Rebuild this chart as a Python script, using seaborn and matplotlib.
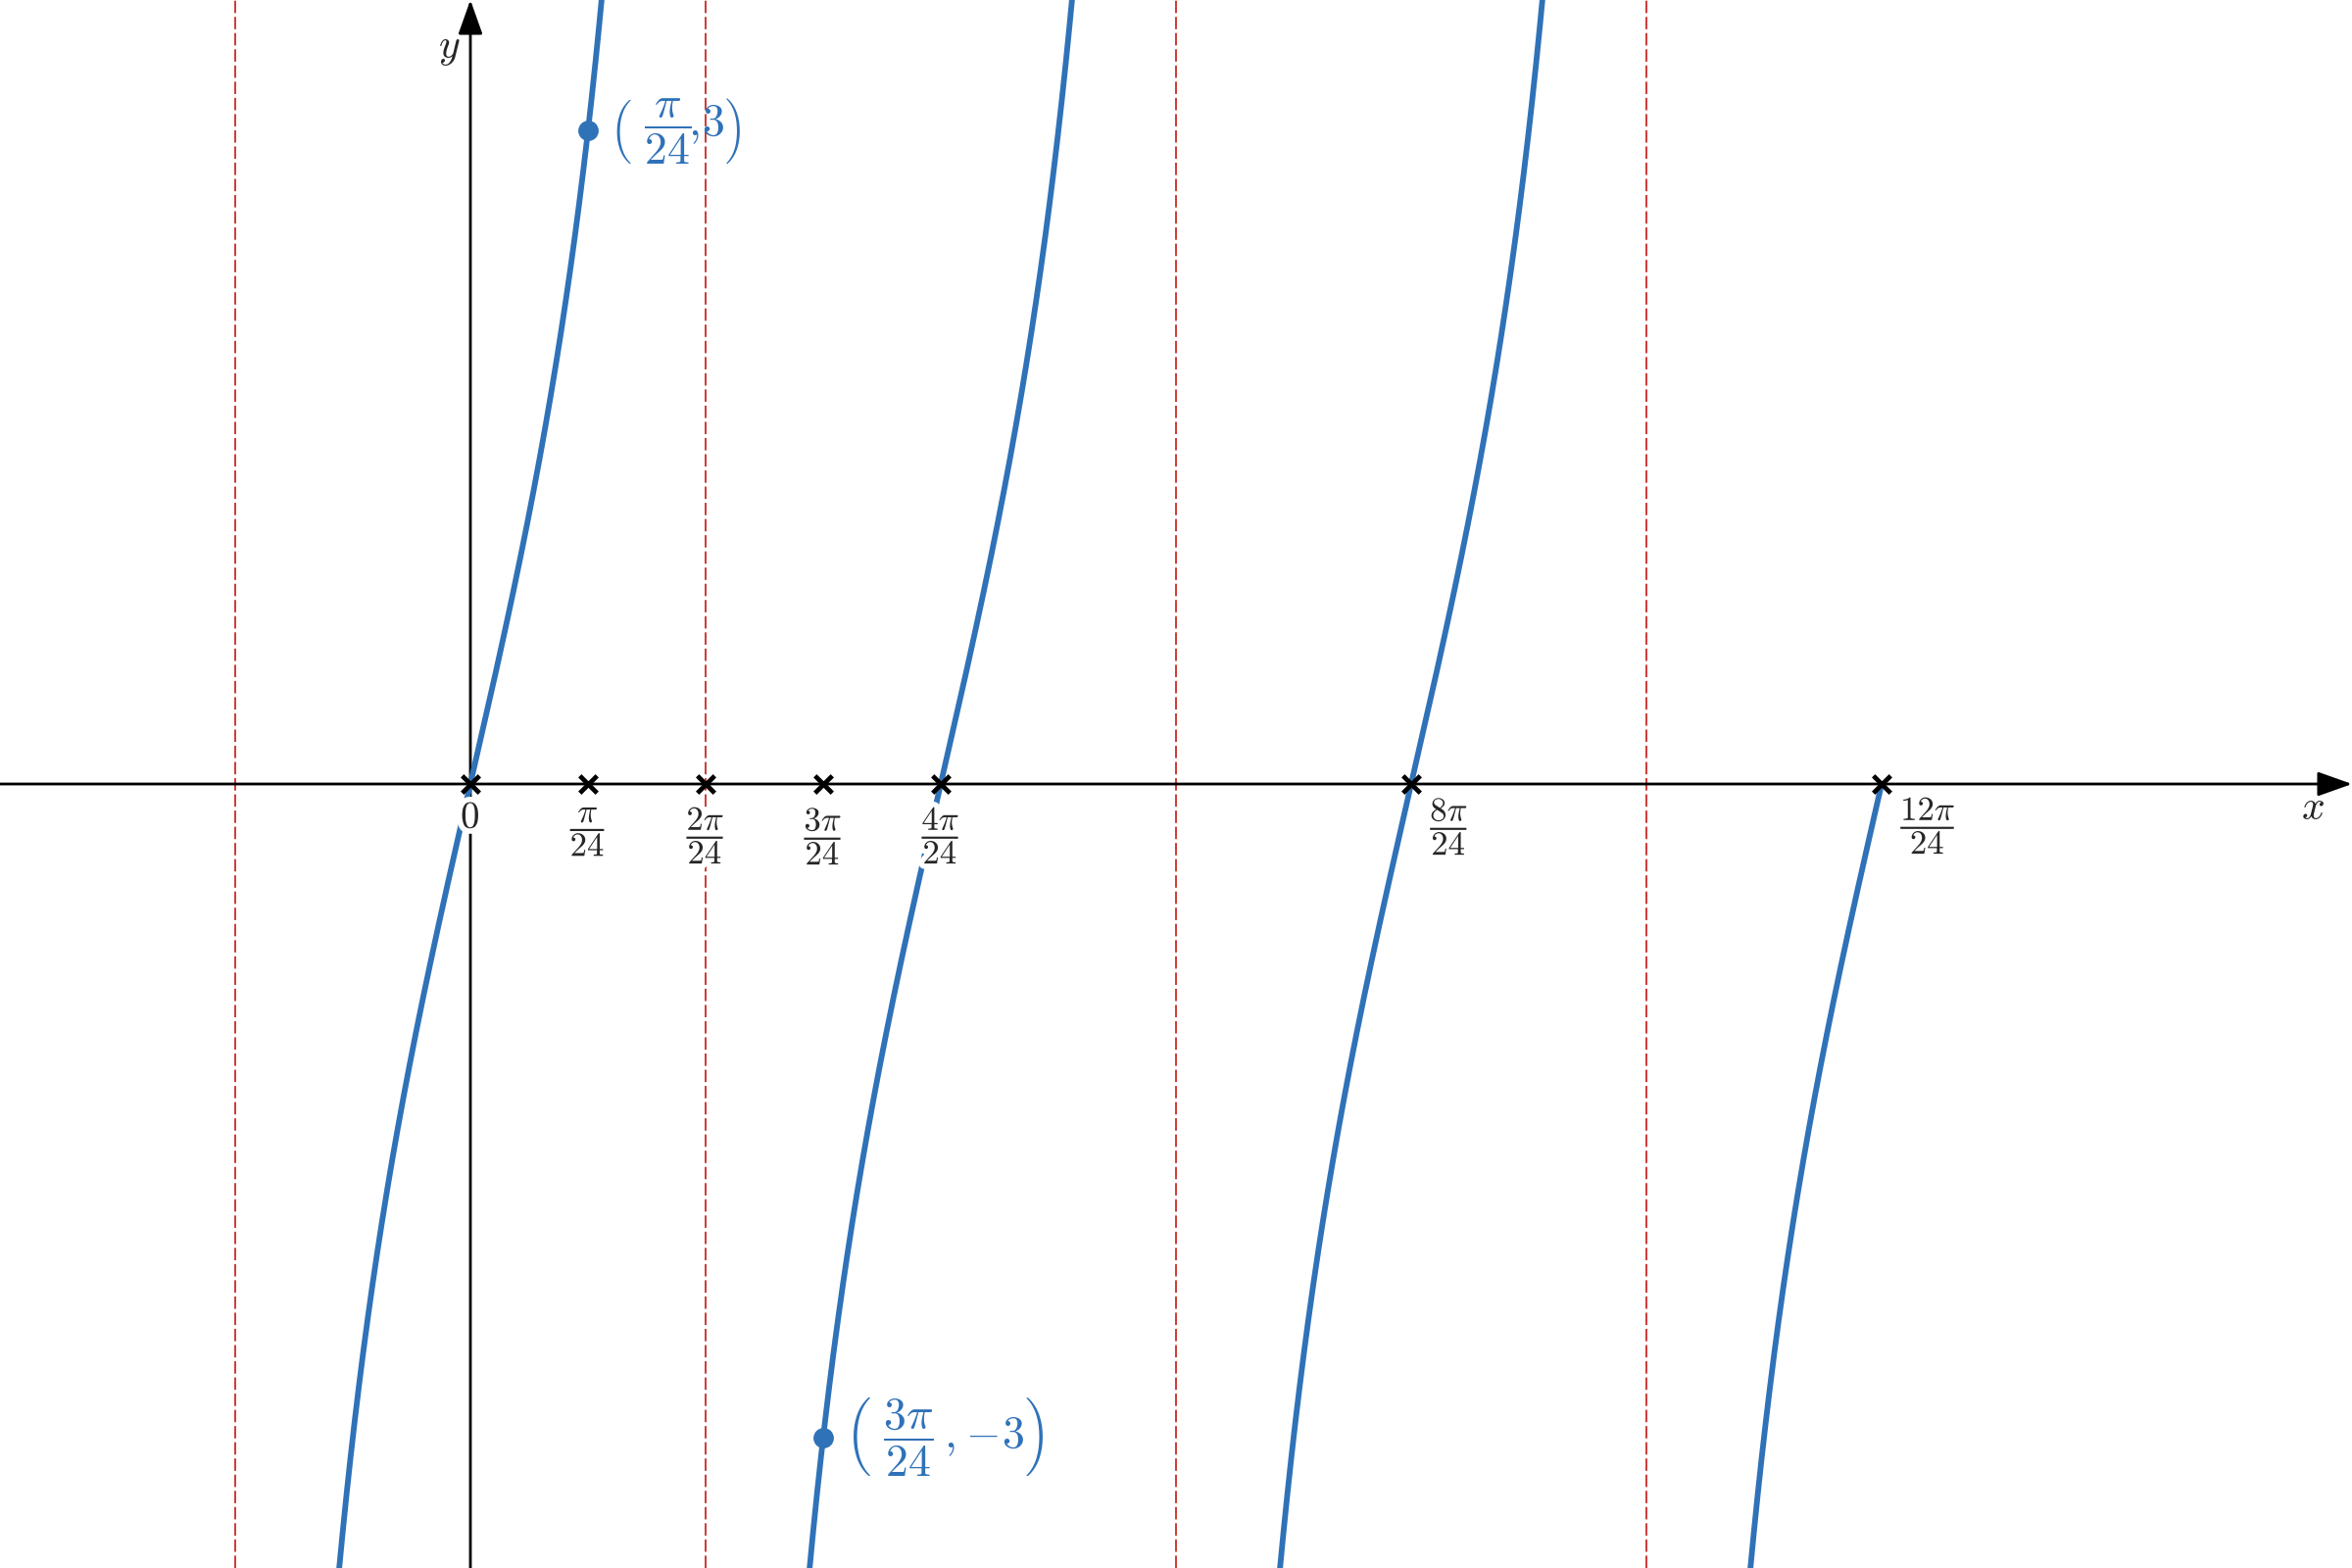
import numpy as np
import pandas as pd
import matplotlib
matplotlib.use("Agg")
import matplotlib.pyplot as plt
import matplotlib.patheffects as pe
import seaborn as sns

# ---- data ----
amplitude = 3          # y = amplitude * tan(freq * x)
freq = 6
unit = np.pi / 24
asymptotes_units = [-2, 2, 6, 10]
branch_starts_units = [-2, 2, 6, 10]
branch_ends_units = [2, 6, 10, 12]
tick_units = [0, 1, 2, 3, 4, 8, 12]
tick_labels = ["$0$", r"$\dfrac{\pi}{24}$", r"$\dfrac{2\pi}{24}$", r"$\dfrac{3\pi}{24}$",
               r"$\dfrac{4\pi}{24}$", r"$\dfrac{8\pi}{24}$", r"$\dfrac{12\pi}{24}$"]
point_x_units = [1, 3]
point_y = [3, -3]
point_labels = [r"$\left(\ \dfrac{\pi}{24}\!,\!3\right)$", r"$\left(\ \dfrac{3\pi}{24}\,,\!-\!3\right)$"]
x_range_units = [-4, 16]
y_range = [-3.6, 3.6]

BLUE = "#2f72b8"
RED = "#cc3a36"

sns.set_theme(style="white")
plt.rcParams["mathtext.fontset"] = "cm"
plt.rcParams["font.family"] = ["DejaVu Serif"]

fig = plt.figure(figsize=(12, 8), dpi=200)
ax = fig.add_axes([0, 0, 1, 1])
ax.set_xlim(x_range_units[0] * unit, x_range_units[1] * unit)
ax.set_ylim(*y_range)
ax.axis("off")

# asymptotes
for a in asymptotes_units:
    ax.axvline(a * unit, color=RED, lw=0.7, dashes=(6.5, 2.0), zorder=1)

# axes with arrows
xmin, xmax = ax.get_xlim()
ax.annotate("", xy=(xmax, 0), xytext=(xmin, 0),
            arrowprops=dict(arrowstyle="-|>,head_length=0.9,head_width=0.32", color="black",
                            lw=1.0, shrinkA=0, shrinkB=0), zorder=2)
ax.annotate("", xy=(0, y_range[1]), xytext=(0, y_range[0]),
            arrowprops=dict(arrowstyle="-|>,head_length=0.9,head_width=0.32", color="black",
                            lw=1.0, shrinkA=0, shrinkB=0), zorder=2)
ax.text(x_range_units[1] * unit - 0.33 * unit, -0.015, "$x$", fontsize=15, ha="center", va="top")
ax.text(-0.18 * unit, y_range[1] - 0.12, "$y$", fontsize=15, ha="center", va="top")

# curve branches
frames = []
for i, (s, e) in enumerate(zip(branch_starts_units, branch_ends_units)):
    lo = s * unit + 1e-4
    hi = e * unit - (1e-4 if e in asymptotes_units else 0)
    xs = np.linspace(lo, hi, 800)
    ys = amplitude * np.tan(freq * xs)
    m = (ys > y_range[0] - 0.5) & (ys < y_range[1] + 0.5)
    frames.append(pd.DataFrame({"x": xs[m], "y": ys[m], "branch": i}))
curve = pd.concat(frames)
sns.lineplot(data=curve, x="x", y="y", units="branch", estimator=None, sort=False,
             color=BLUE, lw=2.1, ax=ax, zorder=4, legend=False)

# tick markers
tick_x = [t * unit for t in tick_units]
sns.scatterplot(x=tick_x, y=[0] * len(tick_x), marker="x", s=40, color="black",
                linewidth=1.7, ax=ax, zorder=5, legend=False)

stroke = [pe.withStroke(linewidth=4, foreground="white")]
for t, lab in zip(tick_units, tick_labels):
    if t == 0:
        ax.text(t * unit, -0.07, lab, fontsize=14, ha="center", va="top", zorder=6,
                path_effects=stroke)
    elif t <= 4:
        ax.text(t * unit, -0.095, lab, fontsize=12.5, ha="center", va="top", zorder=6,
                path_effects=stroke)
    else:
        ax.text(t * unit + 0.16 * unit, -0.05, lab, fontsize=12.5, ha="left", va="top", zorder=6,
                path_effects=stroke)

# labelled points
px = [p * unit for p in point_x_units]
sns.scatterplot(x=px, y=point_y, s=48, color=BLUE, edgecolor=BLUE, ax=ax, zorder=7, legend=False)
for x0, y0, lab in zip(px, point_y, point_labels):
    ax.annotate(lab, xy=(x0, y0), xytext=(8, 0), textcoords="offset points",
                fontsize=16.5, color=BLUE, ha="left", va="center", zorder=8)

fig.savefig("out.png", dpi=200)
